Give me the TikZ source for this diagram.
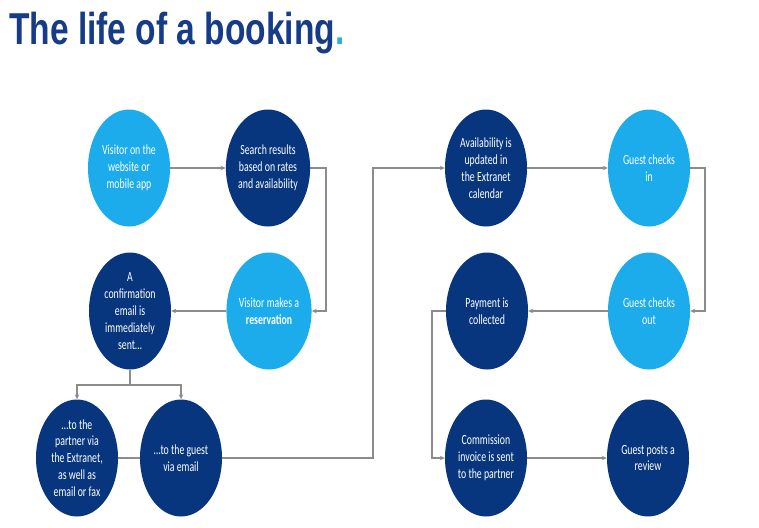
\documentclass[tikz,border=0pt]{standalone}
\usepackage{fontspec}
\setmainfont{Carlito}[FakeStretch=0.70]
\newfontfamily\titlefont{Liberation Sans}[FakeStretch=0.75]
\usetikzlibrary{shapes.geometric,arrows.meta}
\definecolor{navy}{RGB}{8,54,126}
\definecolor{sky}{RGB}{28,172,236}
\definecolor{titleblue}{RGB}{22,60,136}
\definecolor{dotcyan}{RGB}{40,178,222}
\definecolor{linegray}{RGB}{140,140,140}
\tikzset{
  bubble/.style={ellipse, minimum width=82pt, minimum height=117pt, inner sep=0pt,
    align=center, text=white, font=\fontsize{14}{16.9}\selectfont},
  darkb/.style={bubble, fill=navy},
  lightb/.style={bubble, fill=sky},
  conn/.style={draw=linegray, line width=1.2pt},
  arr/.style={conn, -{Stealth[length=5pt,width=4.5pt]}},
}
\begin{document}
\begin{tikzpicture}[x=1pt,y=-1pt]
\useasboundingbox (0,0) rectangle (759,527);
\node[anchor=base west, inner sep=0pt, text=titleblue] (title) at (9,45)
  {\titlefont\bfseries\fontsize{44.7}{50}\selectfont The life of a booking\textcolor{dotcyan}{.}};
% nodes
\node[lightb] (v1) at (129,168) {Visitor on the\\website or\\mobile app};
\node[darkb] (s) at (268,168) {Search results\\based on rates\\and availability};
\node[lightb] (r) at (269,311) {Visitor makes a\\\textbf{reservation}};
\node[darkb] (c) at (130,311) {A\\confirmation\\email is\\immediately\\sent\ldots};
\node[darkb] (p) at (77,458) {\ldots to the\\partner via\\the Extranet,\\as well as\\email or fax};
\node[darkb] (g) at (181,458) {\ldots to the guest\\via email};
\node[darkb] (a) at (486,168) {Availability is\\updated in\\the Extranet\\calendar};
\node[lightb] (ci) at (649,168) {Guest checks\\in};
\node[lightb] (co) at (649,311) {Guest checks\\out};
\node[darkb] (pay) at (487,311) {Payment is\\collected};
\node[darkb] (com) at (486,458) {Commission\\invoice is sent\\to the partner};
\node[darkb] (rev) at (648,458) {Guest posts a\\review};
% bend points
\coordinate (k1) at (326,168);
\coordinate (k2) at (130,385);
\coordinate (k3) at (373,458);
\coordinate (k4) at (705,168);
\coordinate (k5) at (432,311);
% connectors
\draw[arr] (v1) -- (s);
\draw[arr] (s.east) -- (k1) |- (r.east);
\draw[arr] (r) -- (c);
\draw[conn] (c.south) -- (k2);
\draw[arr] (k2) -| (p.north);
\draw[arr] (k2) -| (g.north);
\draw[conn] (p.east) -- (g.west);
\draw[arr] (g.east) -- (k3) |- (a.west);
\draw[arr] (a) -- (ci);
\draw[arr] (ci.east) -- (k4) |- (co.east);
\draw[arr] (co) -- (pay);
\draw[arr] (pay.west) -- (k5) |- (com.west);
\draw[arr] (com) -- (rev);
\end{tikzpicture}
\end{document}
